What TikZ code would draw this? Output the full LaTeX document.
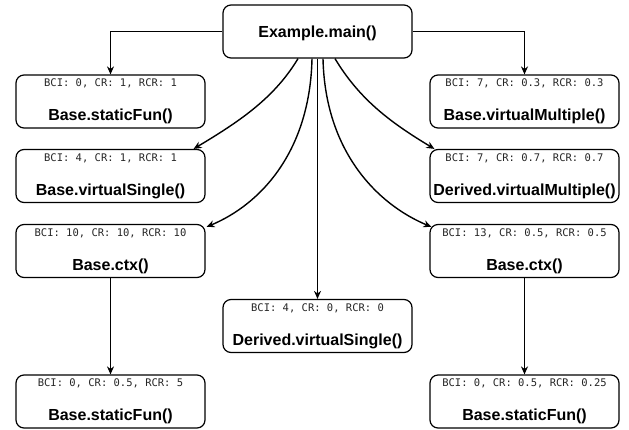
\documentclass[tikz,border=0pt]{standalone}
\usepackage{fontspec}
\setmainfont{Liberation Sans}
\newfontfamily\monof{DejaVu Sans Mono}
\usetikzlibrary{arrows.meta}
\tikzset{
  box/.style={draw=black, line width=1.2pt, rounded corners=8pt, minimum width=189pt, minimum height=53pt, inner sep=0pt, fill=white},
  bci/.style={anchor=base, inner sep=0pt, font=\monof\fontsize{10.5}{12}\selectfont, text=black!85},
  ttl/.style={anchor=base, inner sep=0pt, font=\fontsize{16}{19}\selectfont\bfseries},
  arr/.style={draw=black, line width=1.4pt, -{Stealth[length=8pt,width=7pt]}},
}
\newcommand\callbox[5]{%
  \node[box] (#1) at (#2,#3) {};
  \node[bci] (#1b) at ([yshift=-12.5pt]#1.north) {#4};
  \node[ttl] (#1t) at ([yshift=8pt]#1.south) {#5};
}
\begin{document}
\begin{tikzpicture}[x=1pt,y=-1pt]
  \useasboundingbox (0,0) rectangle (629,429);
  % main
  \node[box] (main) at (317.5,31.5) {};
  \node[ttl] (maint) at ([yshift=-6pt]main.center) {Example.main()};
  % left column
  \callbox{l1}{110.5}{101.5}{BCI: 0, CR: 1, RCR: 1}{Base.staticFun()}
  \callbox{l2}{110.5}{176}{BCI: 4, CR: 1, RCR: 1}{Base.virtualSingle()}
  \callbox{l3}{110.5}{251}{BCI: 10, CR: 10, RCR: 10}{Base.ctx()}
  \callbox{l4}{110.5}{401.5}{BCI: 0, CR: 0.5, RCR: 5}{Base.staticFun()}
  % right column
  \callbox{r1}{524.5}{101.5}{BCI: 7, CR: 0.3, RCR: 0.3}{Base.virtualMultiple()}
  \callbox{r2}{524.5}{176}{BCI: 7, CR: 0.7, RCR: 0.7}{Derived.virtualMultiple()}
  \callbox{r3}{524.5}{251}{BCI: 13, CR: 0.5, RCR: 0.5}{Base.ctx()}
  \callbox{r4}{524.5}{401.5}{BCI: 0, CR: 0.5, RCR: 0.25}{Base.staticFun()}
  % middle
  \callbox{mid}{317.5}{326}{BCI: 4, CR: 0, RCR: 0}{Derived.virtualSingle()}
  % connectors
  \draw[arr] (main.west) -| (l1.north);
  \draw[arr] (main.east) -| (r1.north);
  \draw[arr] (main.south) -- (mid.north);
  \draw[arr] (l3.south) -- (l4.north);
  \draw[arr] (r3.south) -- (r4.north);
  \draw[arr] ([xshift=-19.5pt]main.south) .. controls +(-24,40) and +(45,-27) .. ([xshift=-12pt]l2.north east);
  \draw[arr] ([xshift=-5.5pt]main.south) .. controls +(-2,92) and +(55,-23) .. ([xshift=1pt,yshift=-3pt]l3.north east);
  \draw[arr] ([xshift=17.5pt]main.south) .. controls +(24,40) and +(-45,-27) .. ([xshift=5pt]r2.north west);
  \draw[arr] ([xshift=5.5pt]main.south) .. controls +(2,92) and +(-55,-23) .. ([xshift=2pt,yshift=-3pt]r3.north west);
\end{tikzpicture}
\end{document}
